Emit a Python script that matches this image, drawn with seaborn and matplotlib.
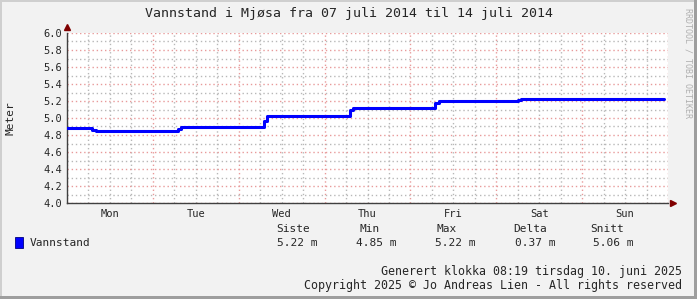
import matplotlib
matplotlib.use("Agg")
import matplotlib.pyplot as plt
import seaborn as sns
import pandas as pd
from matplotlib.patches import Rectangle
from matplotlib.ticker import FixedLocator, FuncFormatter, MultipleLocator

# hours since Mon 07 juli 2014 00:00, water level in metres
hours = [0, 7, 8, 31, 32, 55, 56, 79, 80, 103, 104, 126, 127, 167]
levels = [4.88, 4.86, 4.85, 4.87, 4.89, 4.96, 5.02, 5.10, 5.12, 5.18, 5.20, 5.21, 5.22, 5.22]

days = ["Mon", "Tue", "Wed", "Thu", "Fri", "Sat", "Sun"]
stat_names = ["Siste", "Min", "Max", "Delta", "Snitt"]
stat_values = ["5.22 m", "4.85 m", "5.22 m", "0.37 m", "5.06 m"]

W, H = 697, 299
sns.set_style("white")
plt.rcParams["font.family"] = ["DejaVu Sans Mono", "DejaVu Sans"]

fig = plt.figure(figsize=(W / 100, H / 100), dpi=100, facecolor="#f2f2f2")
ax = fig.add_axes([67 / W, (H - 203) / H, (668 - 67) / W, (203 - 33) / H])
ax.set_facecolor("white")

df = pd.DataFrame({"hour": hours, "level": levels})
sns.lineplot(data=df, x="hour", y="level", ax=ax, color="#0000ff",
             linewidth=2.2, drawstyle="steps-post", estimator=None, zorder=5)

ax.set_xlim(0, 168)
ax.set_ylim(4.0, 6.0)

ax.xaxis.set_major_locator(MultipleLocator(24))
ax.xaxis.set_minor_locator(FixedLocator(list(range(0, 169, 6))))
ax.xaxis.set_major_formatter(FuncFormatter(lambda v, p: ""))
ax.xaxis.set_minor_formatter(
    FuncFormatter(lambda v, p: days[int(v) // 24] if int(v) % 24 == 12 and int(v) < 168 else ""))
ax.yaxis.set_major_locator(MultipleLocator(0.2))
ax.yaxis.set_minor_locator(MultipleLocator(0.1))
ax.yaxis.set_major_formatter(FuncFormatter(lambda v, p: f"{v:.1f}"))

ax.tick_params(axis="x", which="major", length=3, color="#e06060", direction="inout")
ax.tick_params(axis="x", which="minor", length=0, labelsize=7.5, pad=4)
ax.tick_params(axis="y", which="major", length=3, color="#404040", labelsize=7.5, pad=2,
               direction="inout")
ax.tick_params(axis="y", which="minor", length=0)

ax.grid(which="minor", color="#b8b8b8", linestyle=(0, (1, 2)), linewidth=1)
ax.grid(which="major", color="#e89a9a", linestyle=(0, (1, 2)), linewidth=1)
ax.set_axisbelow(True)

for side in ["top", "right"]:
    ax.spines[side].set_visible(False)
for side in ["left", "bottom"]:
    ax.spines[side].set_color("#404040")
    ax.spines[side].set_linewidth(1)

ax.plot([0], [1.035], marker="^", color="#800000", markersize=4,
        transform=ax.transAxes, clip_on=False)
ax.plot([1.008], [0], marker=">", color="#800000", markersize=4,
        transform=ax.transAxes, clip_on=False)

ax.set_xlabel("")
ax.set_ylabel("")


def px(x, y):
    return x / W, 1 - y / H


fig.text(*px(349, 14), "Vannstand i Mjøsa fra 07 juli 2014 til 14 juli 2014",
         ha="center", va="center", fontsize=9.5)
fig.text(*px(10, 118), "Meter", rotation=90, ha="center", va="center", fontsize=8)
fig.text(*px(688, 8), "RRDTOOL / TOBI OETIKER", rotation=270, ha="center", va="top",
         fontsize=6, color="#b0b0b0")

head_x = [293, 370, 447, 530, 607]
val_x = [297, 376, 455, 535, 613]
for hx, vx, name, val in zip(head_x, val_x, stat_names, stat_values):
    fig.text(*px(hx, 229), name, ha="center", va="center", fontsize=8)
    fig.text(*px(vx, 243), val, ha="center", va="center", fontsize=8)

fig.patches.append(Rectangle(px(15, 248), 8 / W, 11 / H, transform=fig.transFigure,
                             facecolor="#0000ff", edgecolor="#000080", linewidth=0.6))
fig.text(*px(30, 243), "Vannstand", ha="left", va="center", fontsize=8)

fig.text(*px(682, 272), "Generert klokka 08:19 tirsdag 10. juni 2025",
         ha="right", va="center", fontsize=8.4)
fig.text(*px(682, 285), "Copyright 2025 © Jo Andreas Lien - All rights reserved",
         ha="right", va="center", fontsize=8.4)

# frame around the image
fig.patches.append(Rectangle((0, 0), 2 / W, 1, transform=fig.transFigure,
                             facecolor="#cfcfcf", edgecolor="none"))
fig.patches.append(Rectangle((0, 1 - 2 / H), 1, 2 / H, transform=fig.transFigure,
                             facecolor="#cfcfcf", edgecolor="none"))
fig.patches.append(Rectangle((1 - 3 / W, 0), 3 / W, 1, transform=fig.transFigure,
                             facecolor="#9e9e9e", edgecolor="none"))
fig.patches.append(Rectangle((0, 0), 1, 3 / H, transform=fig.transFigure,
                             facecolor="#9e9e9e", edgecolor="none"))

fig.savefig("out.png", dpi=100, facecolor=fig.get_facecolor())
plt.close(fig)
